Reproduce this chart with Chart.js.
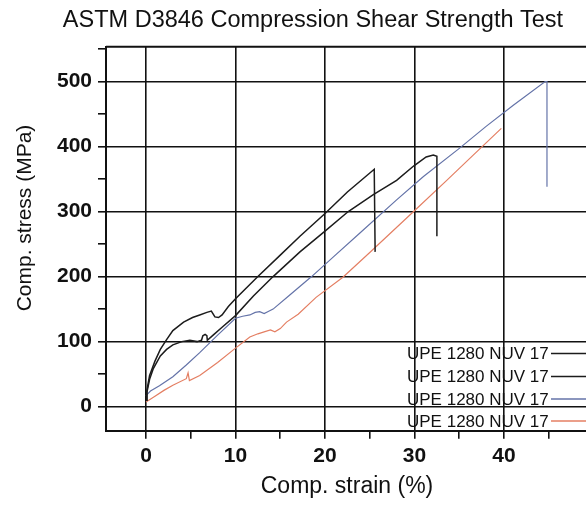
<!DOCTYPE html>
<html><head><meta charset="utf-8">
<script src="https://cdn.jsdelivr.net/npm/chart.js@4.4.0/dist/chart.umd.min.js"></script>
<style>html,body{margin:0;padding:0;background:#fff;}#wrap{width:586px;height:508px;}</style>
</head><body><div id="wrap"><canvas id="c" width="586" height="508"></canvas></div>
<script>
const chartTitle = "ASTM D3846 Compression Shear Strength Test";
const xAxisTitle = "Comp. strain (%)";
const yAxisTitle = "Comp. stress (MPa)";
const seriesLabels = ["UPE 1280 NUV 17", "UPE 1280 NUV 17", "UPE 1280 NUV 17", "UPE 1280 NUV 17"];
const seriesColors = ["#1c1c1c", "#1c1c1c", "#6473a8", "#e47f63"];

const s1Strain = [0, 0.1, 0.4, 1, 1.6, 2.3, 3, 4.2, 5.2, 6, 6.8, 7.3, 7.7, 8.1, 8.5, 9.2, 10, 12.5, 15, 17.2, 20, 22.5, 25.5, 25.6];
const s1Stress = [10, 25, 48, 70, 88, 103, 117, 130, 137, 141, 145, 147, 138, 137, 141, 154, 166, 200, 233, 262, 297, 330, 365, 238];

const s2Strain = [0, 0.1, 0.4, 0.8, 1.6, 2.3, 3, 4, 4.9, 5.7, 6.2, 6.35, 6.6, 6.8, 6.85, 7.5, 8.5, 10, 12, 14.2, 17.2, 20, 22.6, 25.4, 28, 29.9, 31.3, 32.1, 32.5, 32.5];
const s2Stress = [10, 22, 42, 58, 78, 88, 95, 100, 102, 100, 102, 109, 111, 109, 102, 110, 122, 140, 170, 200, 238, 270, 300, 326, 348, 370, 384, 387, 385, 262];

const s3Strain = [0, 0.5, 1.5, 3, 4.5, 6, 8, 10, 10.8, 11.6, 12.2, 12.7, 13.2, 13.6, 14.2, 16, 18.5, 21, 23.9, 28, 31, 34.9, 38, 41, 44.6, 44.8, 44.8];
const s3Stress = [17, 24, 32, 46, 64, 83, 110, 136, 139, 141, 145, 146, 143, 146, 150, 171, 200, 231, 267, 318, 354, 396, 431, 463, 500, 500, 338];

const s4Strain = [0, 1, 2, 3, 4.5, 4.7, 4.85, 6, 8, 10, 11.6, 12.5, 13.2, 13.9, 14.4, 15, 15.7, 17, 19, 22, 25, 29.9, 33.6, 36.5, 39.7];
const s4Stress = [7, 16, 25, 33, 43, 52, 40, 48, 68, 90, 107, 112, 115, 118, 115, 120, 130, 142, 168, 199, 237, 300, 348, 386, 428];

const xMajorStep = 10, yMajorStep = 100;

const strains = [s1Strain, s2Strain, s3Strain, s4Strain];
const stresses = [s1Stress, s2Stress, s3Stress, s4Stress];
const widths = [1.5, 1.5, 1.2, 1.2];

const datasets = strains.map((xs, i) => ({
  label: seriesLabels[i],
  data: xs.map((x, k) => ({x: x, y: stresses[i][k]})),
  borderColor: seriesColors[i],
  borderWidth: widths[i],
  pointRadius: 0,
  tension: 0,
  fill: false
}));

const FONT = "'Liberation Sans', Arial, sans-serif";

const decor = {
  id: 'decor',
  afterDraw(chart) {
    const ctx = chart.ctx, a = chart.chartArea;
    ctx.save();
    ctx.strokeStyle = '#111'; ctx.lineWidth = 2;
    ctx.beginPath(); ctx.moveTo(a.left, a.top); ctx.lineTo(a.right, a.top); ctx.stroke();
    ctx.fillStyle = '#111';
    ctx.textBaseline = 'middle';
    ctx.font = '23.5px ' + FONT; ctx.textAlign = 'center';
    ctx.fillText(chartTitle, 313, 20.5);
    ctx.font = '23px ' + FONT;
    ctx.fillText(xAxisTitle, 347, 487);
    ctx.save(); ctx.translate(25, 218); ctx.rotate(-Math.PI / 2);
    ctx.font = '21px ' + FONT; ctx.fillText(yAxisTitle, 0, 0);
    ctx.restore();
    const rows = [353.5, 376.5, 399, 421];
    ctx.font = '17px ' + FONT; ctx.textAlign = 'left';
    chart.data.datasets.forEach((d, i) => {
      ctx.fillStyle = '#111';
      ctx.fillText(d.label, 407, rows[i] + 1);
      ctx.strokeStyle = d.borderColor; ctx.lineWidth = 1.3;
      ctx.beginPath(); ctx.moveTo(551, rows[i]); ctx.lineTo(586, rows[i]); ctx.stroke();
    });
    ctx.restore();
  }
};

new Chart(document.getElementById('c'), {
  type: 'line',
  data: { datasets },
  options: {
    responsive: false,
    animation: false,
    devicePixelRatio: 1,
    layout: { padding: { top: 46.7, left: 0, right: 0, bottom: 0 } },
    plugins: { legend: { display: false }, tooltip: { enabled: false }, title: { display: false } },
    scales: {
      x: {
        type: 'linear', min: -4.47, max: 49.16,
        afterFit: s => { s.height = 77.3; },
        ticks: {
          stepSize: 5, includeBounds: false, autoSkip: false, maxRotation: 0, padding: 5,
          color: '#111', font: { family: FONT, size: 21, weight: 'bold' },
          callback: v => (v % xMajorStep === 0 ? String(v) : '')
        },
        grid: {
          color: c => (c.tick && c.tick.value % xMajorStep === 0 ? '#111' : 'rgba(0,0,0,0)'),
          tickColor: '#111', lineWidth: 1.6, tickLength: 8
        },
        border: { color: '#111', width: 2 }
      },
      y: {
        type: 'linear', min: -37, max: 553.5,
        afterFit: s => { s.width = 106; },
        ticks: {
          stepSize: 50, includeBounds: false, autoSkip: false, padding: 6,
          color: '#111', font: { family: FONT, size: 21, weight: 'bold' },
          callback: v => (v % yMajorStep === 0 ? String(v) : '')
        },
        grid: {
          color: c => (c.tick && c.tick.value % yMajorStep === 0 ? '#111' : 'rgba(0,0,0,0)'),
          tickColor: '#111', lineWidth: 1.6, tickLength: 8
        },
        border: { color: '#111', width: 2 }
      }
    }
  },
  plugins: [decor]
});
</script></body></html>
